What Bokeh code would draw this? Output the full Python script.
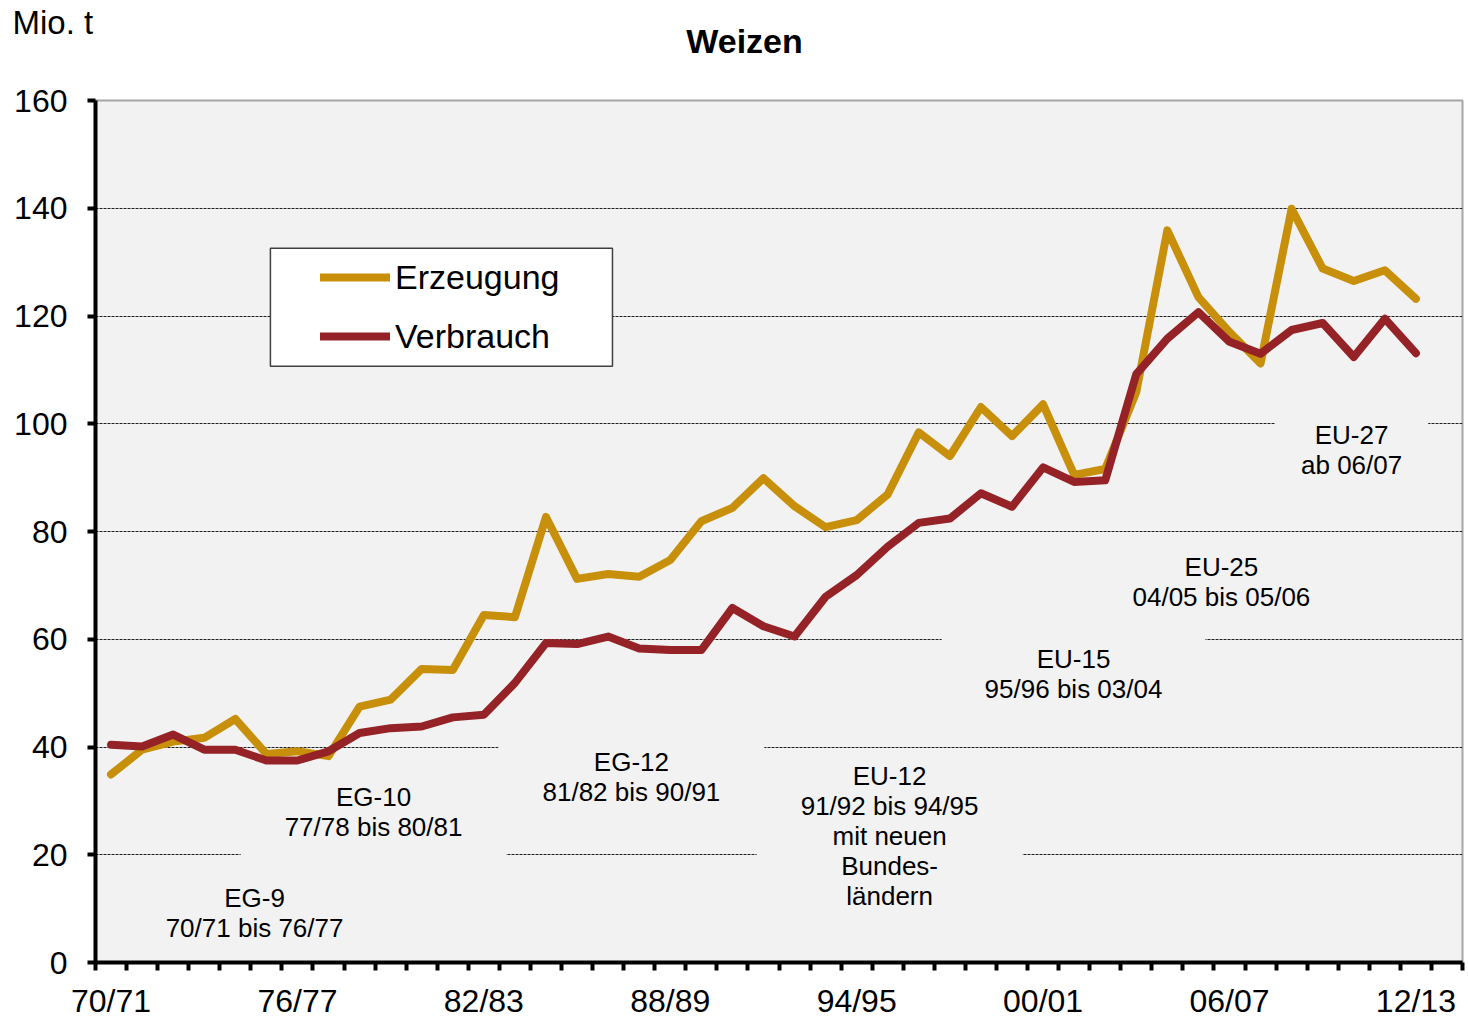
from bokeh.plotting import figure
from bokeh.layouts import column
from bokeh.models import Range1d, FixedTicker, Label, Legend, LegendItem, BoxAnnotation
from bokeh.core.properties import value
from bokeh.embed import file_html
from bokeh.resources import INLINE

seasons = ["70/71", "71/72", "72/73", "73/74", "74/75", "75/76", "76/77", "77/78",
           "78/79", "79/80", "80/81", "81/82", "82/83", "83/84", "84/85", "85/86",
           "86/87", "87/88", "88/89", "89/90", "90/91", "91/92", "92/93", "93/94",
           "94/95", "95/96", "96/97", "97/98", "98/99", "99/00", "00/01", "01/02",
           "02/03", "03/04", "04/05", "05/06", "06/07", "07/08", "08/09", "09/10",
           "10/11", "11/12", "12/13"]

erzeugung = [34.9, 39.5, 41.0, 41.7, 45.2, 38.7, 39.2, 38.3, 47.5, 48.8,
             54.5, 54.3, 64.5, 64.1, 82.7, 71.2, 72.1, 71.6, 74.7, 81.9,
             84.4, 89.9, 84.7, 80.8, 82.1, 86.9, 98.4, 94.0, 103.1, 97.7,
             103.6, 90.5, 91.6, 105.9, 135.9, 123.5, 117.0, 111.2, 139.9, 128.8,
             126.5, 128.5, 123.2]

verbrauch = [40.4, 40.1, 42.3, 39.5, 39.5, 37.5, 37.5, 39.2, 42.6, 43.5,
             43.8, 45.5, 46.0, 51.9, 59.3, 59.1, 60.5, 58.3, 58.0, 58.0,
             65.8, 62.4, 60.5, 67.9, 71.9, 77.2, 81.6, 82.4, 87.1, 84.6,
             91.9, 89.2, 89.5, 109.2, 115.8, 120.7, 115.2, 113.0, 117.4, 118.7,
             112.4, 119.5, 113.1]

y_ticks = [0, 20, 40, 60, 80, 100, 120, 140, 160]
label_step = 6

series_names = ["Erzeugung", "Verbrauch"]
title_text = "Weizen"
unit_text = "Mio. t"

annot_texts = [
    "EG-9\n70/71 bis 76/77",
    "EG-10\n77/78 bis 80/81",
    "EG-12\n81/82 bis 90/91",
    "EU-12\n91/92 bis 94/95\nmit neuen\nBundes-\nländern",
    "EU-15\n95/96 bis 03/04",
    "EU-25\n04/05 bis 05/06",
    "EU-27\nab 06/07",
]

FONT = "Liberation Sans"
GOLD = "#C8900A"
RED = "#952226"
n_slots = len(seasons) + 1
W = 1468
HEAD_H = 60

# ---- header strip (unit + title) ----
head = figure(width=W, height=HEAD_H, output_backend="svg", toolbar_location=None,
              x_range=Range1d(0, W), y_range=Range1d(HEAD_H, 0),
              x_axis_type=None, y_axis_type=None, min_border=0,
              outline_line_color=None, background_fill_color="white",
              border_fill_color="white")
head.frame_align = False
head.xgrid.visible = False
head.ygrid.visible = False
head.text(x=[12], y=[22], text=[unit_text], text_align="left",
          text_baseline="middle", text_font=value(FONT), text_font_size="33px",
          text_color="black")
head.text(x=[744], y=[40], text=[title_text], text_align="center",
          text_baseline="middle", text_font=value(FONT), text_font_size="34px",
          text_font_style="bold", text_color="black")

# ---- main chart ----
p = figure(width=W, height=1021 - HEAD_H, output_backend="svg", toolbar_location=None,
           x_range=Range1d(-0.5, n_slots - 0.5), y_range=Range1d(0, 160),
           min_border_left=95, min_border_right=6, min_border_top=40,
           min_border_bottom=58,
           background_fill_color="#F2F2F2", border_fill_color="white",
           outline_line_color="#A6A6A6", outline_line_width=2)
p.frame_align = False

xs = list(range(len(seasons)))
r1 = p.line(xs, erzeugung, line_color=GOLD, line_width=8,
            line_join="round", line_cap="round")
r2 = p.line(xs, verbrauch, line_color=RED, line_width=8,
            line_join="round", line_cap="round")

major = [i for i in range(len(seasons)) if i % label_step == 0]
minor = [i - 0.5 for i in range(n_slots + 1)]
p.xaxis.ticker = FixedTicker(ticks=major, minor_ticks=minor)
p.xaxis.major_label_overrides = {i: seasons[i] for i in major}
p.xaxis.major_tick_out = 0
p.xaxis.major_tick_in = 0
p.xaxis.minor_tick_out = 8
p.xaxis.minor_tick_in = 0
p.xaxis.minor_tick_line_width = 4
p.xaxis.minor_tick_line_color = "black"
p.xaxis.major_label_standoff = 12

p.yaxis.ticker = FixedTicker(ticks=y_ticks, minor_ticks=[])
p.yaxis.major_tick_out = 8
p.yaxis.major_tick_in = 0
p.yaxis.major_tick_line_width = 4
p.yaxis.major_label_standoff = 20

for ax in (p.xaxis, p.yaxis):
    ax.axis_line_width = 4
    ax.axis_line_color = "black"
    ax.major_label_text_font = FONT
    ax.major_label_text_font_size = "32px"
    ax.major_label_text_color = "black"

p.xgrid.visible = False
p.ygrid.ticker = FixedTicker(ticks=y_ticks[1:])
p.ygrid.grid_line_color = "#202020"
p.ygrid.grid_line_width = 1
p.ygrid.grid_line_dash = "3 1"

# period annotations; padding order = (left, right, top, bottom)
ann_pos = [(4.62, 9.1), (8.45, 28.0), (16.75, 34.5), (25.06, 23.45),
           (30.98, 53.6), (35.74, 70.6), (39.93, 95.1)]
ann_pad = [(44, 44, 6, 6), (44, 44, 16, 16), (44, 44, 8, 8), (44, 44, 8, 8),
           (43, 43, 8, 8), (44, 44, 8, 8), (26, 26, 8, 8)]
for txt, (ax_, ay_), pad in zip(annot_texts, ann_pos, ann_pad):
    p.add_layout(Label(x=ax_, y=ay_, text=txt, text_align="center",
                       text_baseline="middle", text_font=FONT,
                       text_font_size="26px", text_line_height=1.0,
                       text_color="black",
                       background_fill_color="#F2F2F2", background_fill_alpha=1.0,
                       padding=pad))

# legend frame box (drawn separately so the box can be wider on the left)
p.add_layout(BoxAnnotation(left=5.13, right=16.14, top=132.56, bottom=110.68,
                           fill_color="white", fill_alpha=1.0,
                           line_color="#404040", line_width=1.5, line_alpha=1.0))

legend = Legend(items=[LegendItem(label=series_names[0], renderers=[r1]),
                       LegendItem(label=series_names[1], renderers=[r2])],
                location=(215, 596), padding=10, spacing=19,
                glyph_width=70, glyph_height=40, label_height=40,
                label_width=207, label_standoff=5,
                label_text_font=FONT, label_text_font_size="34px",
                label_text_baseline="middle", label_text_color="black",
                border_line_alpha=0.0, background_fill_alpha=0.0,
                margin=0)
p.add_layout(legend, "center")

layout = column(head, p, spacing=0)
open("out.html", "w").write(file_html(layout, INLINE))
